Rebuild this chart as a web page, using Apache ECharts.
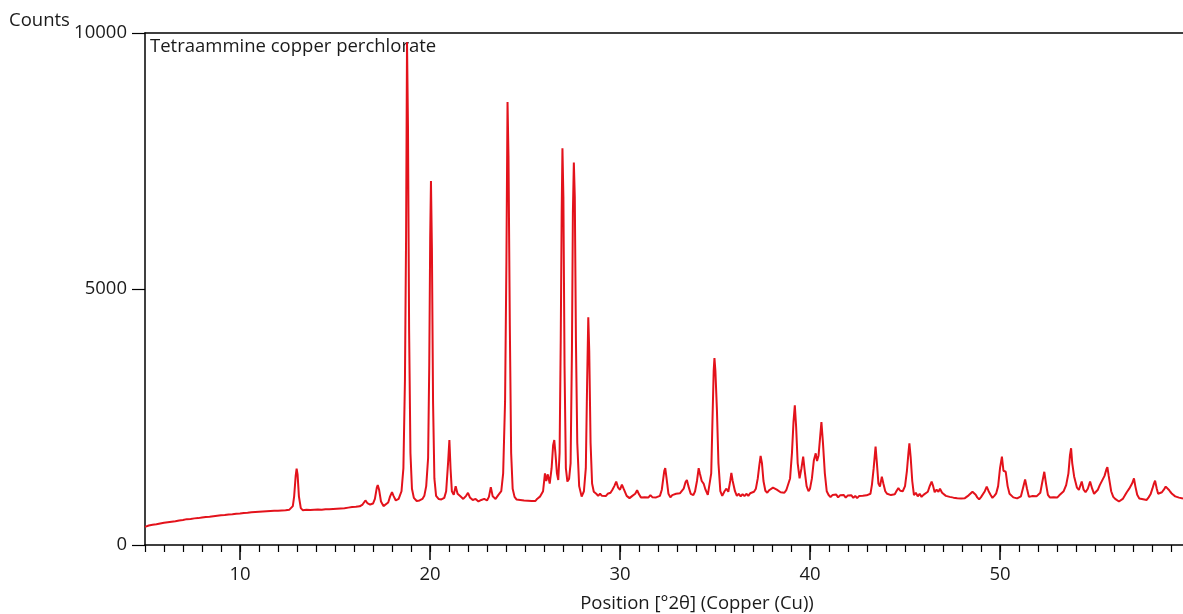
<!DOCTYPE html>
<html>
<head>
<meta charset="utf-8">
<script src="https://cdn.jsdelivr.net/npm/echarts@6/dist/echarts.min.js"></script>
<style>
html,body{margin:0;padding:0;background:#fff;}
#chart{width:1183px;height:614px;}
</style>
</head>
<body>
<div id="chart"></div>
<script>
// ---- data: [2θ (deg), counts] ----
const scanA = [
[5.0,355],[5.1,330],[5.2,380],[5.3,365],[5.4,395],[5.5,370],[5.6,405],[5.7,385],[5.8,420],[5.9,400],[6.0,435],[6.1,410],
[6.2,445],[6.3,425],[6.4,455],[6.5,440],[6.6,465],[6.7,445],[6.8,480],[6.9,455],[7.0,490],[7.1,470],[7.2,505],[7.3,480],
[7.4,510],[7.5,490],[7.6,520],[7.7,500],[7.8,525],[7.9,505],[8.0,535],[8.1,515],[8.2,545],[8.3,525],[8.4,550],[8.5,530],
[8.6,560],[8.7,540],[8.8,570],[8.9,550],[9.0,580],[9.1,560],[9.2,585],[9.3,565],[9.4,595],[9.5,575],[9.6,600],[9.7,580],
[9.8,610],[9.9,590],[10.0,615],[10.1,595],[10.2,625],[10.3,600],[10.4,630],[10.5,610],[10.6,640],[10.7,615],[10.8,645],
[10.9,620],[11.0,650],[11.1,625],[11.2,655],[11.3,635],[11.4,660],[11.5,640],[11.6,665],[11.7,640],[11.8,670],[11.9,645],
[12.0,670],[12.1,650],[12.2,675],[12.3,655],[12.4,680],[12.5,660],[12.6,690],[12.7,700],[12.78,760],[12.85,950],[12.93,1350],
[12.98,1490],[13.03,1380],[13.1,950],[13.2,720],[13.3,680],[13.4,710],[13.5,690],[13.6,715],[13.7,685],[13.8,720],[13.9,690],
[14.0,725],[14.1,695],[14.2,720],[14.3,690],[14.4,725],[14.5,700],[14.6,730],[14.7,700],[14.8,735],[14.9,705],[15.0,740],
[15.1,710],[15.2,740],[15.3,715],[15.4,745],[15.5,720],[15.6,750],[15.7,730],[15.8,760],[15.9,740],[16.0,770],[16.1,745],
[16.2,775],[16.3,755],[16.45,790],[16.6,870],[16.7,820],[16.85,790],[17.0,810],[17.1,900],[17.2,1120],[17.25,1170],[17.32,1080],
[17.42,850],[17.55,760],[17.65,780],[17.8,830],[17.9,950],[18.0,1030],[18.08,960],[18.2,870],[18.35,900],[18.5,1050],[18.6,1500],
[18.68,3200],[18.74,6000],[18.79,9820],[18.84,8200],[18.9,4200],[18.97,1800],[19.05,1100]
];
const scanB = [
[19.15,920],[19.3,860],[19.45,870],[19.6,900],[19.7,960],[19.8,1150],[19.9,1700],[19.96,3500],[20.01,6000],[20.05,7110],
[20.1,5800],[20.16,2800],[20.23,1300],[20.32,960],[20.45,900],[20.6,890],[20.75,920],[20.85,1050],[20.95,1600],[21.02,2050],
[21.08,1500],[21.15,1050],[21.25,980],[21.35,1150],[21.45,1000],[21.6,950],[21.75,900],[21.9,960],[22.0,1020],[22.1,930],
[22.25,880],[22.4,900],[22.55,850],[22.7,880],[22.85,900],[23.0,870],[23.1,940],[23.2,1130],[23.3,950],[23.45,900],
[23.6,980],[23.75,1050],[23.85,1400],[23.95,2800],[24.02,5500],[24.08,8650],[24.13,7600],[24.2,4300],[24.27,1800],[24.35,1100],
[24.45,940],[24.55,890],[24.65,920],[24.75,880],[24.85,910],[24.95,870],[25.05,905],[25.15,865],[25.25,895],[25.35,860],
[25.45,890],[25.55,860],[25.65,905],[25.8,950],
[25.95,1050],[26.05,1400],[26.12,1250],[26.2,1380],[26.3,1200],[26.4,1500],[26.48,1950],[26.54,2050],[26.6,1800],[26.68,1400],
[26.75,1270],[26.82,1800],[26.88,4000],[26.93,6500],[26.97,7750],[27.02,6800],[27.08,3500],[27.15,1500],[27.23,1240],[27.32,1290],
[27.4,1600],[27.47,3800],[27.52,6500],[27.57,7470],[27.62,6800],[27.68,4000],[27.75,2000],[27.85,1150],[27.98,945],[28.1,1050],
[28.2,1500],[28.27,3200],[28.33,4450],[28.38,3800],[28.45,2000],[28.53,1200],[28.62,1040],[28.75,1000],[28.85,960],[28.95,1000],
[29.05,960],[29.15,995],[29.25,955],[29.35,1000],[29.5,1020],[29.6,1080],[29.7,1150],[29.8,1240],[29.9,1120],[30.0,1080],[30.1,1180]
];
const scanC = [
[30.2,1090],[30.35,960],[30.5,915],[30.65,960],[30.8,1000],[30.9,1070],[31.0,990],[31.1,930],[31.2,965],[31.3,935],[31.4,970],
[31.5,930],[31.6,975],[31.7,935],[31.8,965],[31.9,930],[32.0,965],[32.1,960],[32.2,1080],[32.27,1280],[32.33,1450],[32.38,1500],
[32.45,1300],[32.55,1000],[32.65,930],[32.75,975],[32.85,950],[32.95,1000],[33.05,970],[33.15,1010],[33.25,990],[33.35,1100],
[33.45,1230],[33.52,1270],[33.6,1150],[33.72,1000],[33.86,975],[33.95,1050],[34.05,1250],[34.14,1500],[34.2,1400],[34.3,1250],
[34.4,1200],[34.5,1080],[34.62,980],[34.72,1000],[34.8,1400],[34.87,2500],[34.93,3400],[34.97,3650],[35.02,3400],[35.1,2640],
[35.18,1600],[35.28,1050],[35.38,960],[35.5,1050],[35.6,1100],[35.7,1040],[35.8,1250],[35.86,1410],[35.93,1250],[36.05,1050],
[36.15,960],[36.25,1000],[36.35,950],[36.45,995],[36.55,955],[36.65,1000],[36.75,960],[36.85,1010],[36.95,990],[37.05,1040],
[37.15,1100],[37.25,1300],[37.33,1550],[37.4,1740],[37.47,1600],[37.55,1250],[37.65,1060],[37.75,1020],[37.85,1070],[37.95,1040],
[38.05,1120],[38.15,1140],[38.25,1080],[38.35,1090],[38.45,1030],[38.55,1060],[38.65,1020],[38.75,1070],[38.85,1100],[38.95,1300],
[39.05,1800],[39.13,2400],[39.2,2730],[39.27,2300],[39.35,1600],[39.45,1300],[39.55,1500],[39.64,1725],[39.72,1450],[39.82,1150],
[39.92,1050],[40.0,1100],[40.1,1300],[40.2,1650],[40.3,1790],[40.37,1640],[40.45,1750],[40.53,2100],[40.6,2400],[40.68,2000],
[40.78,1400],[40.88,1050],[40.98,976],[41.08,935],[41.18,975],[41.28,940],[41.38,985],[41.48,930],[41.58,970],[41.68,935],
[41.78,975],[41.88,925],[41.98,965],[42.08,930],[42.18,970],[42.28,920],[42.38,960],[42.48,915],[42.58,955],[42.68,925],
[42.78,960],[42.88,935],[42.98,970],[43.08,945],[43.18,1000],[43.26,1180],[43.35,1500],[43.45,1920],[43.52,1600],[43.6,1200],
[43.68,1140],[43.78,1335],[43.86,1200],[43.96,1050],[44.06,1000],[44.16,1030],[44.26,975],[44.36,1010],[44.46,990],[44.56,1060],
[44.65,1110],[44.75,1060],[44.88,1050]
];
const scanD = [
[45.0,1150],[45.1,1450],[45.18,1800],[45.23,1985],[45.3,1700],[45.38,1250],[45.47,976],[45.57,1020],[45.67,950],[45.77,1000],
[45.87,940],[45.97,980],[46.07,950],[46.2,1040],[46.3,1150],[46.4,1240],[46.48,1150],[46.56,1030],[46.66,1080],[46.76,1040],
[46.84,1100],[46.95,1020],[47.05,1000],[47.15,960],[47.25,985],[47.35,940],[47.45,970],[47.55,925],[47.65,955],[47.75,915],
[47.85,950],[47.95,910],[48.05,945],[48.15,915],[48.25,950],[48.35,970],[48.45,1000],[48.55,1040],[48.62,1075],[48.72,980],
[48.8,930],[48.9,890],[49.0,935],[49.1,960],[49.2,1050],[49.3,1140],[49.4,1050],[49.5,980],[49.6,920],[49.7,960],[49.8,1010],
[49.9,1150],[50.0,1500],[50.1,1725],[50.18,1450],[50.3,1430],[50.4,1150],[50.5,1000],[50.6,976],[50.7,930],[50.8,950],[50.9,910],
[51.0,890],[51.1,950],[51.2,1100],[51.32,1280],[51.42,1100],[51.52,940],[51.62,905],[51.72,955],[51.82,920],[51.92,950],
[52.02,960],[52.12,1020],[52.22,1220],[52.33,1430],[52.42,1200],[52.52,980],[52.62,930],[52.72,965],[52.82,935],[52.92,960],
[53.02,930],[53.12,970],[53.22,990],[53.35,1050],[53.48,1170],[53.6,1400],[53.68,1750],[53.74,1890],[53.8,1600],[53.9,1340],
[53.95,1335],[54.05,1120],[54.15,1075],[54.3,1240],[54.4,1080],[54.5,1030],[54.62,1100],[54.74,1240],[54.85,1100],[54.95,1000],
[55.05,1040],[55.15,1080],[55.25,1170],[55.35,1170],[55.5,1350],[55.6,1480],[55.65,1520],[55.72,1350],[55.85,1050],[55.96,940],
[56.06,900],[56.16,920],[56.26,850],[56.36,880],[56.46,900],[56.56,960],[56.67,1030],[56.8,1100],[56.95,1200],[57.05,1300],
[57.12,1150],[57.22,980],[57.33,910],[57.43,935],[57.53,895],[57.63,920],[57.72,880],[57.82,930],[57.92,990],[58.02,1100],
[58.1,1200],[58.16,1255],[58.25,1100],[58.32,1000],[58.42,976],[58.52,1030],[58.62,1080],[58.72,1140],[58.8,1120],[58.88,1080],
[58.96,1040],[59.05,1000],[59.12,976],[59.22,950],[59.32,960],[59.42,925],[59.52,930],[59.63,910]
];
const xMajorTicks = [10, 20, 30, 40, 50];
const yTicks = [0, 5000, 10000];
const sampleName = 'Tetraammine copper perchlorate';
const yTitle = 'Counts';
const xTitle = 'Position [°2θ] (Copper (Cu))';

const xMinorTicks = [];
for (let v = 5; v <= 59; v++) xMinorTicks.push(v);

const FONT = '"Open Sans", "Noto Sans", sans-serif';
const TXT = '#1a1a1a';
const FS = 18.5;
const X_MIN = 5, X_MAX = 59.63;
const chart = echarts.init(document.getElementById('chart'), null, {renderer: 'canvas'});
chart.setOption({
  animation: false,
  backgroundColor: '#fff',
  grid: {left: 145, right: 0, top: 33, bottom: 69, show: false},
  xAxis: [{
    type: 'value', min: X_MIN, max: X_MAX, position: 'bottom',
    axisLine: {show: true, onZero: false, lineStyle: {color: '#000', width: 1.5}},
    axisTick: {show: true, customValues: xMajorTicks, length: 15, lineStyle: {color: '#000', width: 1.5}},
    axisLabel: {show: true, customValues: xMajorTicks, margin: 20, color: TXT, fontSize: FS, fontFamily: FONT},
    splitLine: {show: false}
  }, {
    type: 'value', min: X_MIN, max: X_MAX, position: 'bottom',
    axisLine: {show: false},
    axisTick: {show: true, customValues: xMinorTicks, length: 7, lineStyle: {color: '#000', width: 1.2}},
    axisLabel: {show: false},
    splitLine: {show: false}
  }, {
    type: 'value', min: X_MIN, max: X_MAX, position: 'top',
    axisLine: {show: true, onZero: false, lineStyle: {color: '#000', width: 1.5}},
    axisTick: {show: false},
    axisLabel: {show: false},
    splitLine: {show: false}
  }],
  yAxis: {
    type: 'value', min: 0, max: 10000, interval: 5000,
    axisLine: {show: true, onZero: false, lineStyle: {color: '#000', width: 1.5}},
    axisTick: {show: true, customValues: yTicks, length: 13, lineStyle: {color: '#000', width: 1.2}},
    axisLabel: {customValues: yTicks, margin: 18, color: TXT, fontSize: FS, fontFamily: FONT,
      formatter: function (v) { return String(v); }},
    splitLine: {show: false}
  },
  graphic: [
    {type: 'text', left: 9, top: 11, style: {text: yTitle, fill: TXT, font: FS + 'px ' + FONT}},
    {type: 'text', left: 150, top: 37, style: {text: sampleName, fill: TXT, font: FS + 'px ' + FONT}},
    {type: 'text', x: 697, y: 604, style: {text: xTitle, fill: TXT, font: FS + 'px ' + FONT, align: 'center', verticalAlign: 'middle'}}
  ],
  series: [{
    type: 'line', xAxisIndex: 0, showSymbol: false, symbol: 'none',
    lineStyle: {color: '#e3121b', width: 2},
    data: scanA.concat(scanB, scanC, scanD)
  }]
});
</script>
</body>
</html>
